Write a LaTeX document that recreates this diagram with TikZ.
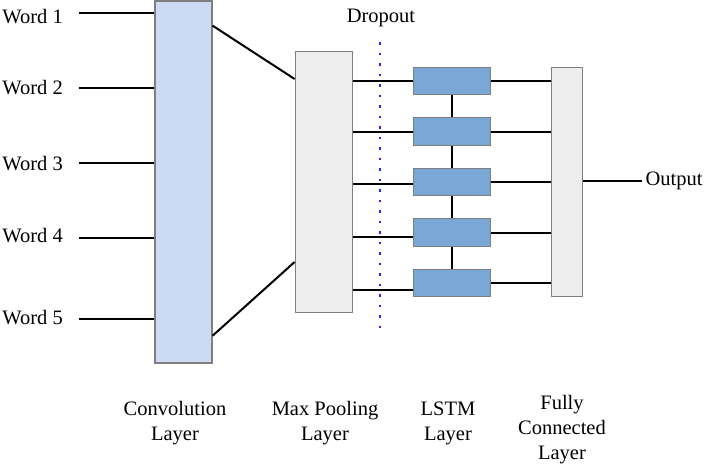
\documentclass[tikz,border=0pt]{standalone}
\usepackage{fontspec}
\setmainfont{Liberation Serif}
\usepackage{tikz}
\usepackage{color}
\definecolor{convblue}{HTML}{CCDAF4}
\definecolor{poolgrey}{HTML}{EEEEEE}
\definecolor{lstmblue}{HTML}{7BA7D6}
\definecolor{boxedge}{HTML}{7F7F7F}
\definecolor{dropblue}{HTML}{2626FF}

\begin{document}
\begin{tikzpicture}[x=1pt,y=-1pt,font=\fontsize{20.5}{25}\selectfont,
	layer/.style={draw=boxedge,line width=1.3pt,inner sep=0pt},
	link/.style={line width=2pt}]
	\useasboundingbox (0,0) rectangle (710,466);
	\node[layer,fill=convblue,minimum width=57pt,minimum height=362pt] (conv) at (183.5,182) {};
	\node[layer,fill=poolgrey,minimum width=57.5pt,minimum height=261pt] (pool) at (324,182.2) {};
	\node[layer,fill=poolgrey,minimum width=30.5pt,minimum height=229pt] (fc) at (567,182.2) {};
	\foreach \i/\y in {1/81,2/131.5,3/182,4/232.5,5/283}
		\node[layer,fill=lstmblue,minimum width=77.5pt,minimum height=27.5pt] (lstm\i) at (452,\y) {};
	\foreach \i/\ty/\ly in {1/17/13.3,2/87.5/88,3/164/163,4/236/237.7,5/317.5/319} {
		\node[anchor=east,inner xsep=16pt] (word\i) at (79,\ty) {Word \i};
		\draw[link] (word\i.east |- 0,\ly) -- (conv.west |- 0,\ly);
	}
	\draw[link] (conv.east |- 0,25.7) -- (pool.west |- 0,79);
	\draw[link] (conv.east |- 0,335.7) -- (pool.west |- 0,262);
	\foreach \i/\y in {1/81,2/132,3/184,4/237,5/290}
		\draw[link] (pool.east |- 0,\y) -- (lstm\i.west |- 0,\y);
	\foreach \i in {1,...,5}
		\draw[link] (lstm\i.east) -- (lstm\i.east -| fc.west);
	\foreach \i/\j in {1/2,2/3,3/4,4/5}
		\draw[link] (lstm\i.south) -- (lstm\j.north);
	\coordinate (droptop) at (380,42);
	\coordinate (dropbot) at (380,328);
	\node (droplabel) at (381,18) {Dropout};
	\draw[dropblue,line width=2.5pt,dash pattern=on 2.5pt off 8pt] (droptop) -- (dropbot);
	\node[anchor=west] (out) at (642,181) {Output};
	\draw[link] (fc.east |- out.west) -- (out.west);
	\node[align=center] (convlabel) at (175,423.5) {Convolution\\Layer};
	\node[align=center] (poollabel) at (325,423.5) {Max Pooling\\Layer};
	\node[align=center] (lstmlabel) at (448,423.5) {LSTM\\Layer};
	\node[align=center] (fclabel) at (562,430) {Fully\\Connected\\Layer};
\end{tikzpicture}
\end{document}
